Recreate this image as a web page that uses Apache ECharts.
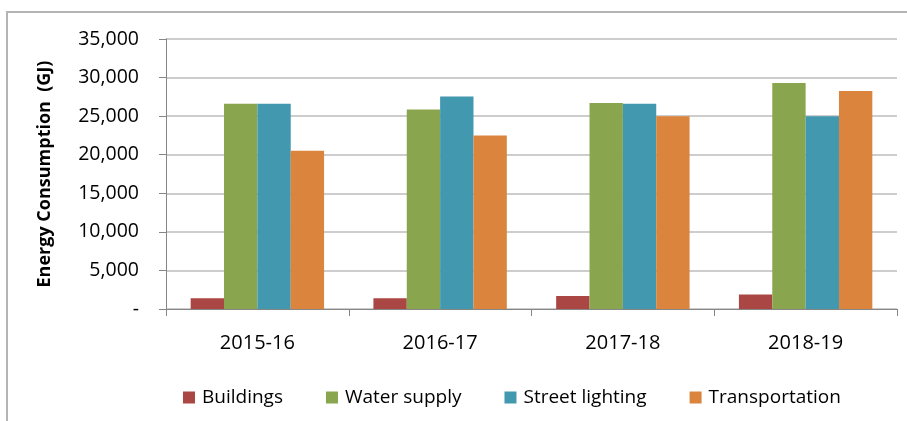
<!DOCTYPE html>
<html lang="en">
<head>
    <meta charset="UTF-8">
    <title>Energy Consumption</title>
    <script src="https://cdn.jsdelivr.net/npm/echarts@6/dist/echarts.min.js"></script>
    <style>
        html, body {margin: 0; padding: 0; background: #fff;}
        #chart {width: 907px; height: 421px;}
    </style>
</head>
<body>
<div id="chart"></div>
<script>
    var years = ['2015-16', '2016-17', '2017-18', '2018-19'];
    var buildings = [1400, 1400, 1670, 1880];
    var waterSupply = [26600, 25850, 26700, 29300];
    var streetLighting = [26600, 27550, 26600, 25000];
    var transportation = [20500, 22500, 25000, 28250];
    var seriesNames = ['Buildings', 'Water supply', 'Street lighting', 'Transportation'];
    var colors = ['#AA4643', '#89A54E', '#4198AF', '#DB843D'];

    var font = '"Open Sans", sans-serif';
    var myChart = echarts.init(document.getElementById('chart'));
    var option = {
        backgroundColor: '#fff',
        animation: false,
        color: colors,
        graphic: [{
            type: 'rect',
            shape: {x: 7, y: 12, width: 960, height: 460},
            style: {fill: 'none', stroke: '#b4b4b4', lineWidth: 2},
            silent: true
        }],
        grid: {left: 166, right: 10, top: 39, bottom: 112},
        legend: {
            data: seriesNames,
            top: 383,
            left: 178,
            itemWidth: 12,
            itemHeight: 12,
            itemGap: 43,
            icon: 'rect',
            textStyle: {fontFamily: font, fontSize: 19, color: '#000', padding: [0, 0, 0, 2]}
        },
        xAxis: {
            type: 'category',
            data: years,
            axisLine: {lineStyle: {color: '#868686'}},
            axisTick: {show: true, length: 7, lineStyle: {color: '#868686'}},
            axisLabel: {fontFamily: font, fontSize: 20, color: '#000', margin: 24}
        },
        yAxis: {
            type: 'value',
            min: 0,
            max: 35000,
            interval: 5000,
            name: 'Energy Consumption  (GJ)',
            nameLocation: 'middle',
            nameGap: 112,
            nameTextStyle: {fontFamily: font, fontSize: 18, fontWeight: 'bold', color: '#000'},
            axisLine: {show: true, lineStyle: {color: '#868686'}},
            axisTick: {show: true, length: 7, lineStyle: {color: '#868686'}},
            splitLine: {lineStyle: {color: '#bdbdbd', width: 1.5}},
            axisLabel: {
                fontFamily: font, fontSize: 19.5, color: '#000', margin: 27,
                formatter: function (v) { return v === 0 ? '-' : v.toLocaleString('en-US'); }
            }
        },
        series: [
            {name: seriesNames[0], type: 'bar', data: buildings, barGap: '0%', barCategoryGap: '27%'},
            {name: seriesNames[1], type: 'bar', data: waterSupply},
            {name: seriesNames[2], type: 'bar', data: streetLighting},
            {name: seriesNames[3], type: 'bar', data: transportation}
        ]
    };
    myChart.setOption(option);
</script>
</body>
</html>
